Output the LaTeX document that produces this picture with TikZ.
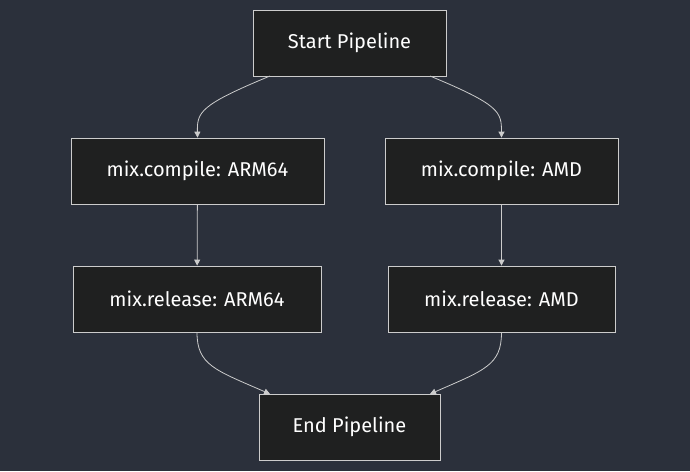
\documentclass[tikz,border=0pt]{standalone}
\usepackage{fontspec}
\setmainfont{Fira Sans}
\usetikzlibrary{arrows.meta}
\definecolor{bg}{HTML}{2B303B}
\definecolor{nf}{HTML}{1F2020}
\definecolor{ln}{HTML}{CCCCCC}
\begin{document}
\begin{tikzpicture}[x=1pt,y=-1pt,
 box/.style={draw=ln,fill=nf,line width=0.8pt,text=white,inner sep=0,font=\fontsize{20}{24}\selectfont},
 ed/.style={draw=ln,line width=0.8pt,-{Triangle[length=6pt,width=6pt]}}]
\fill[bg] (0,0) rectangle (690,471);
\useasboundingbox (0,0) rectangle (690,471);
\node[box,minimum width=193,minimum height=66] (s) at (349.5,43) {Start Pipeline};
\node[box,minimum width=253,minimum height=66] (ca) at (197.5,171) {mix.compile: ARM64};
\node[box,minimum width=233,minimum height=66] (cd) at (501.5,171) {mix.compile: AMD};
\node[box,minimum width=248,minimum height=66] (ra) at (197,299) {mix.release: ARM64};
\node[box,minimum width=227,minimum height=66] (rd) at (501.5,299) {mix.release: AMD};
\node[box,minimum width=181,minimum height=66] (e) at (349.5,427) {End Pipeline};
\coordinate (s1) at (270,76); \coordinate (s2) at (430,76);
\coordinate (e1) at (270,394); \coordinate (e2) at (430,394);
\draw[ed] (s1) .. controls (200,105) and (197,112) .. (ca.north);
\draw[ed] (s2) .. controls (500,105) and (501.5,112) .. (cd.north);
\draw[ed] (ca) -- (ra);
\draw[ed] (cd) -- (rd);
\draw[ed] (ra.south) .. controls (197,365) and (215,370) .. (e1);
\draw[ed] (rd.south) .. controls (501.5,365) and (485,370) .. (e2);
\end{tikzpicture}
\end{document}
